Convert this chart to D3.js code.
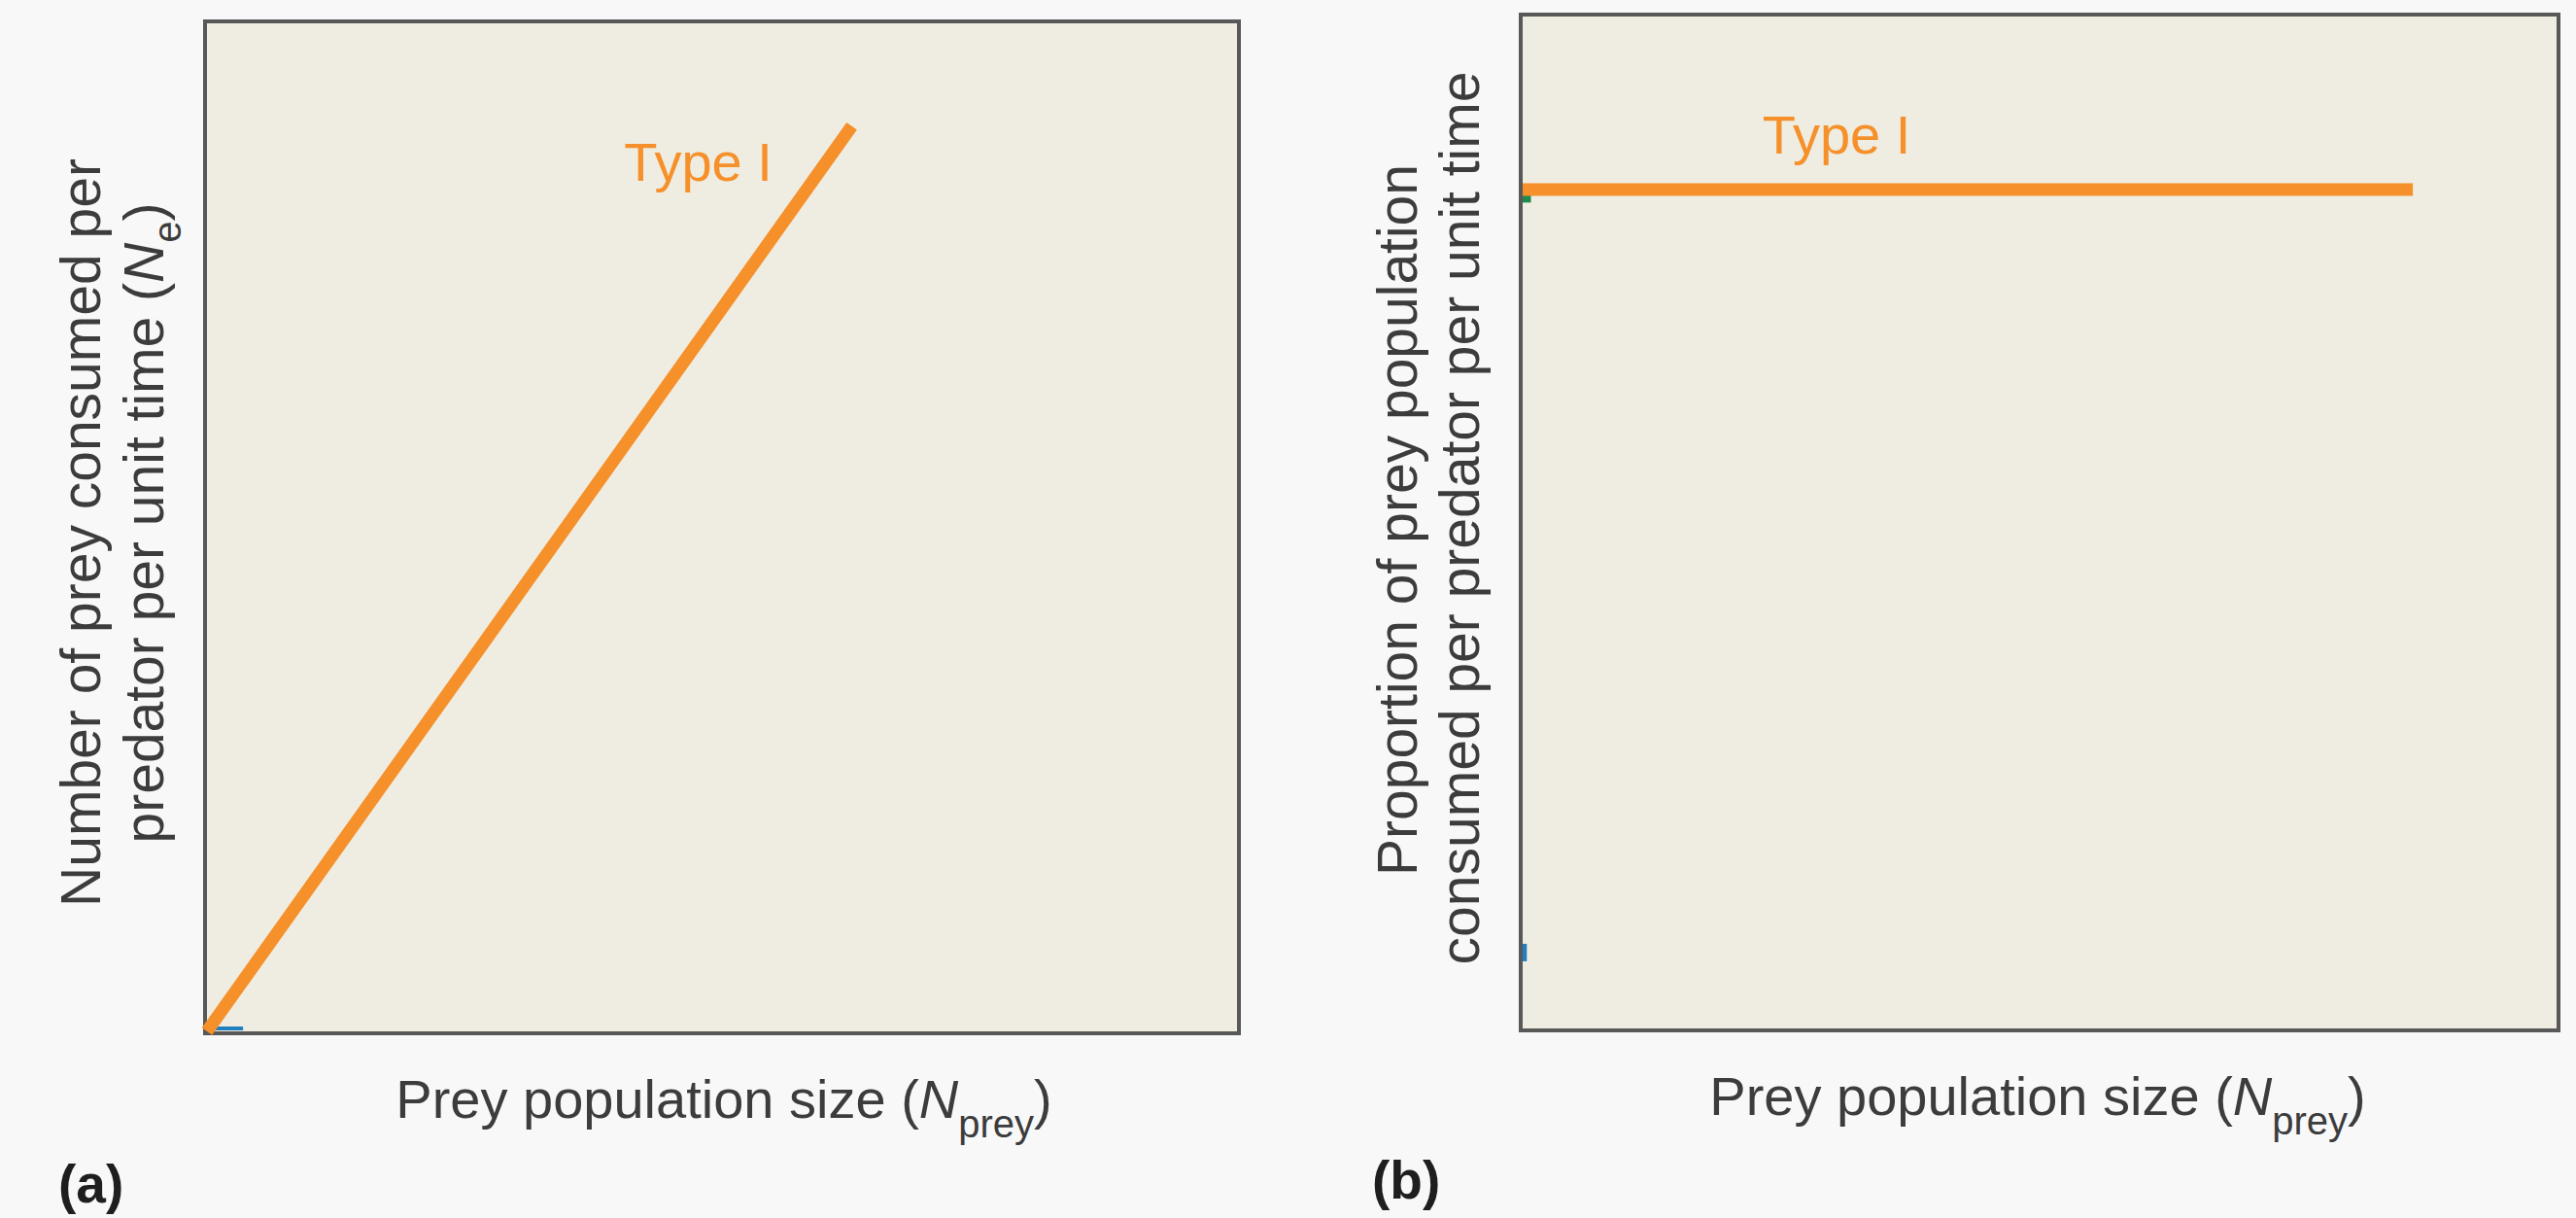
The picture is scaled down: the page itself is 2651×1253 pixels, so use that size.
<!DOCTYPE html>
<html>
<head>
<meta charset="utf-8">
<script src="https://cdn.jsdelivr.net/npm/d3@7"></script>
<style>
  html, body { margin: 0; padding: 0; background: #f8f8f8; }
  svg { display: block; }
  text { font-family: "Liberation Sans", Arial, Helvetica, sans-serif; }
</style>
</head>
<body>
<script>
// ---------- data ----------
const xDomain = [0, 100];
const yDomain = [0, 100];

// Panel (a): number consumed vs prey density
const typeIA_x = [0, 62.6];
const typeIA_y = [0, 89.8];
// faint remnants of hidden curves at the origin
const hintBlueA_x = [0.3, 3.5];
const hintBlueA_y = [0.3, 0.3];

// Panel (b): proportion consumed vs prey density
const typeIB_x = [0, 86.1];
const typeIB_y = [82.9, 82.9];
const hintGreenB_x = [0, 0.8];
const hintGreenB_y = [82.0, 82.0];
const hintBlueB_x = [0, 0.4];
const hintBlueB_y = [7.5, 7.5];

const curveNames = ["Type I", "Type I"];
const labelPosA = [40.5, 84.4];
const labelPosB = [23.2, 86.5];

const panelLetters = ["(a)", "(b)"];
const xTitle = ["Prey population size (", "N", "prey", ")"];
const yTitleA = ["Number of prey consumed per", "predator per unit time (", "N", "e", ")"];
const yTitleB = ["Proportion of prey population", "consumed per predator per unit time"];

// ---------- drawing ----------
const W = 2651, H = 1253;
const svg = d3.select("body").append("svg").attr("width", W).attr("height", H);
svg.append("rect").attr("width", W).attr("height", H).attr("fill", "#f8f8f8");

const ORANGE = "#f5902b";
const TEXT = "#3c3c3c";

function panel(box, lines, hints, labelText, labelPos) {
  const g = svg.append("g");
  g.append("rect")
    .attr("x", box.x).attr("y", box.y).attr("width", box.w).attr("height", box.h)
    .attr("fill", "#efede1").attr("stroke", "#585858").attr("stroke-width", 4);
  const x = d3.scaleLinear().domain(xDomain).range([box.x + 2, box.x + box.w - 2]);
  const y = d3.scaleLinear().domain(yDomain).range([box.y + box.h - 2, box.y + 2]);
  const line = d3.line().x(d => x(d[0])).y(d => y(d[1]));
  hints.forEach(h => {
    g.append("path").datum(d3.zip(h.xs, h.ys)).attr("d", line)
      .attr("fill", "none").attr("stroke", h.color).attr("stroke-width", h.w);
  });
  lines.forEach(l => {
    g.append("path").datum(d3.zip(l.xs, l.ys)).attr("d", line)
      .attr("fill", "none").attr("stroke", ORANGE).attr("stroke-width", 13)
      .attr("stroke-linecap", "butt");
  });
  g.append("text").attr("x", x(labelPos[0])).attr("y", y(labelPos[1]))
    .attr("fill", ORANGE).attr("font-size", 56).text(labelText);
  return {x, y};
}

const boxA = {x: 211, y: 22, w: 1064, h: 1041};
const boxB = {x: 1565, y: 15, w: 1068, h: 1045};

panel(boxA,
  [{xs: typeIA_x, ys: typeIA_y}],
  [{xs: hintBlueA_x, ys: hintBlueA_y, color: "#1f7fc0", w: 4}],
  curveNames[0], labelPosA);
panel(boxB,
  [{xs: typeIB_x, ys: typeIB_y}],
  [{xs: hintGreenB_x, ys: hintGreenB_y, color: "#1f8a4c", w: 8},
   {xs: hintBlueB_x, ys: hintBlueB_y, color: "#1f7fc0", w: 18}],
  curveNames[1], labelPosB);

// x titles
function xLabel(cx, base) {
  const t = svg.append("text").attr("x", cx).attr("y", base)
    .attr("text-anchor", "middle").attr("font-size", 56).attr("fill", TEXT);
  t.append("tspan").text(xTitle[0]);
  t.append("tspan").attr("font-style", "italic").text(xTitle[1]);
  t.append("tspan").attr("font-size", 40).attr("dy", 20).text(xTitle[2]);
  t.append("tspan").attr("dy", -20).text(xTitle[3]);
}
xLabel(745, 1150);
xLabel(2097, 1147);

// y titles
function yLine(bx, cy, parts) {
  const t = svg.append("text")
    .attr("transform", `translate(${bx},${cy}) rotate(-90)`)
    .attr("text-anchor", "middle").attr("font-size", 57).attr("fill", TEXT);
  parts.forEach(p => {
    const s = t.append("tspan").text(p.t);
    if (p.i) s.attr("font-style", "italic");
    if (p.sub) s.attr("font-size", 40).attr("dy", 18);
    if (p.up) s.attr("dy", -18);
  });
}
yLine(103, 548, [{t: yTitleA[0]}]);
yLine(168, 538, [{t: yTitleA[1]}, {t: yTitleA[2], i: true}, {t: yTitleA[3], sub: true}, {t: yTitleA[4], up: true}]);
yLine(1458, 535, [{t: yTitleB[0]}]);
yLine(1522, 533, [{t: yTitleB[1]}]);

// panel letters
svg.append("text").attr("x", 60).attr("y", 1237).attr("font-size", 55)
  .attr("font-weight", "bold").attr("fill", "#1e1e1e").text(panelLetters[0]);
svg.append("text").attr("x", 1412).attr("y", 1233).attr("font-size", 55)
  .attr("font-weight", "bold").attr("fill", "#1e1e1e").text(panelLetters[1]);
</script>
</body>
</html>
